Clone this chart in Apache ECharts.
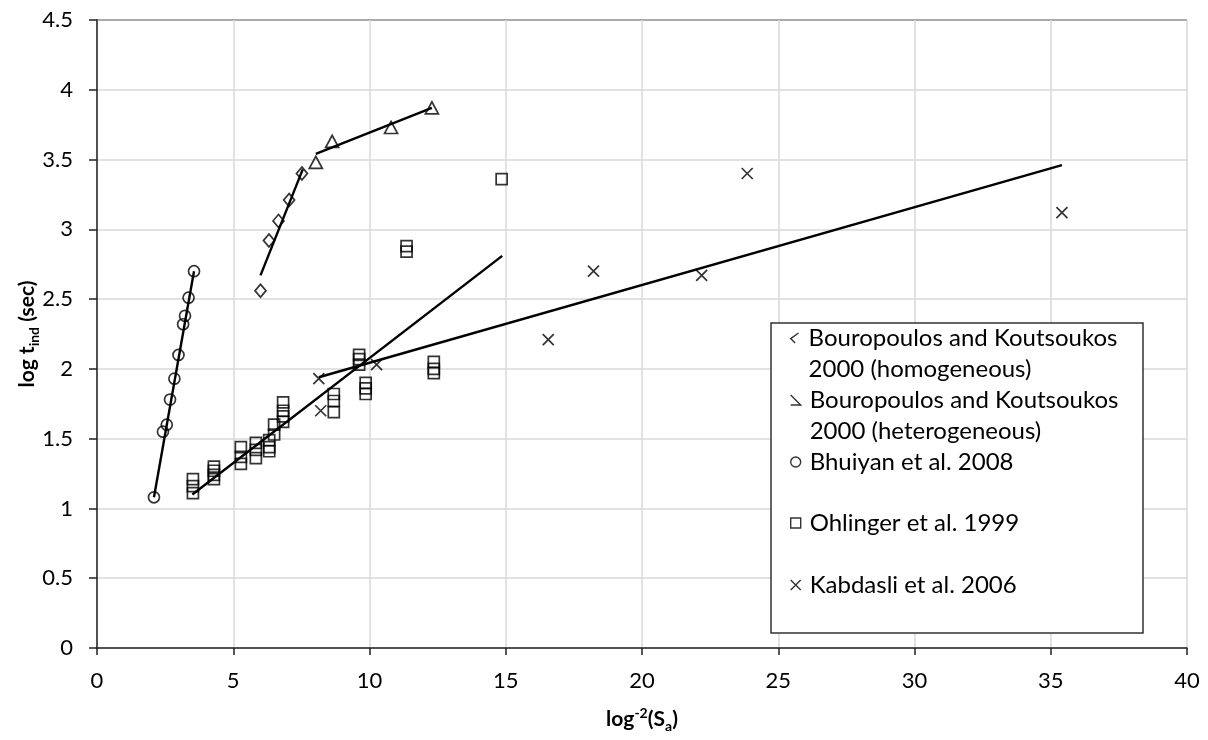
<!DOCTYPE html>
<html>
<head>
<meta charset="utf-8">
<script src="https://cdn.jsdelivr.net/npm/echarts@6/dist/echarts.min.js"></script>
<style>
  html, body { margin: 0; padding: 0; background: #fff; }
  #chart { width: 1208px; height: 740px; }
</style>
</head>
<body>
<div id="chart"></div>
<script>
// Induction time vs. log^-2 of supersaturation, five literature data sets
const bouroHomX = [6.00, 6.31, 6.66, 7.05, 7.52];
const bouroHomY = [2.56, 2.92, 3.06, 3.21, 3.40];

const bouroHetX = [8.03, 8.63, 10.79, 12.29];
const bouroHetY = [3.48, 3.63, 3.73, 3.87];

const bhuiyanX = [2.09, 2.42, 2.56, 2.68, 2.84, 2.99, 3.16, 3.23, 3.36, 3.56];
const bhuiyanY = [1.08, 1.55, 1.60, 1.78, 1.93, 2.10, 2.32, 2.38, 2.51, 2.70];

const ohlingerX = [3.52, 3.52, 3.52, 4.29, 4.29, 4.29, 4.29, 5.28, 5.28, 5.28,
                   5.83, 5.83, 5.83, 6.32, 6.32, 6.32, 6.50, 6.50, 6.83, 6.83,
                   6.83, 6.83, 8.69, 8.69, 8.69, 9.62, 9.62, 9.62, 9.86, 9.86,
                   9.86, 11.36, 11.36, 12.36, 12.36, 12.36, 14.85];
const ohlingerY = [1.21, 1.16, 1.11, 1.30, 1.27, 1.24, 1.21, 1.44, 1.37, 1.32,
                   1.47, 1.42, 1.36, 1.49, 1.44, 1.41, 1.60, 1.53, 1.76, 1.70,
                   1.66, 1.62, 1.82, 1.77, 1.69, 2.10, 2.07, 2.03, 1.90, 1.86,
                   1.82, 2.88, 2.84, 2.05, 2.00, 1.97, 3.36];

const kabdasliX = [8.14, 8.21, 10.26, 16.56, 18.22, 22.19, 23.86, 35.41];
const kabdasliY = [1.93, 1.70, 2.03, 2.21, 2.70, 2.67, 3.40, 3.12];

// Linear fits: [xStart, xEnd] and [yStart, yEnd]
const bhuiyanFitX = [2.09, 3.56];   const bhuiyanFitY = [1.08, 2.70];
const bouroHomFitX = [6.00, 7.55];  const bouroHomFitY = [2.67, 3.43];
const bouroHetFitX = [8.03, 12.29]; const bouroHetFitY = [3.54, 3.87];
const ohlingerFitX = [3.50, 14.87]; const ohlingerFitY = [1.10, 2.81];
const kabdasliFitX = [8.14, 35.41]; const kabdasliFitY = [1.94, 3.46];

const seriesNames = [
  'Bouropoulos and Koutsoukos\n2000 (homogeneous)',
  'Bouropoulos and Koutsoukos\n2000 (heterogeneous)',
  'Bhuiyan et al. 2008',
  'Ohlinger et al. 1999',
  'Kabdasli et al. 2006'
];

const FONT = 'Lato, "Open Sans", sans-serif';
const INK = '#000';
const crossPath = 'path://M0,0L10,10M10,0L0,10';

const pairs = (xs, ys) => xs.map((x, i) => [x, ys[i]]);

const markerStyle = { color: 'rgba(0,0,0,0)', borderColor: INK, borderWidth: 1.7 };

function scatter(name, xs, ys, symbol, size) {
  return {
    name, type: 'scatter', data: pairs(xs, ys),
    symbol, symbolSize: size, itemStyle: markerStyle,
    z: 3, silent: true
  };
}
function fit(xs, ys) {
  return {
    type: 'line', data: pairs(xs, ys), symbol: 'none',
    lineStyle: { color: INK, width: 2.4 }, z: 2, silent: true
  };
}

const legendIcons = [
  'path://M8,0L1,5L5,9',
  'path://M1,0L9,8L1,8',
  'circle',
  'rect',
  crossPath
];
// first-line centres of legend entries
const legendRows = [338, 400, 462, 523, 585];
const LINE_H = 31;
const legends = seriesNames.map((name, i) => {
  const twoLine = name.indexOf('\n') >= 0;
  return {
    data: [{ name, icon: legendIcons[i] }],
    // a blank leading line keeps the icon level with the first text line
    formatter: twoLine ? (n => '\u00a0\n' + n) : (n => n),
    left: 790,
    top: twoLine ? legendRows[i] - 1.5 * LINE_H : legendRows[i] - 0.5 * LINE_H,
    orient: 'vertical',
    padding: 0,
    itemWidth: 10,
    itemHeight: 10,
    selectedMode: false,
    z: 100,
    itemStyle: { color: 'rgba(0,0,0,0)', borderColor: INK, borderWidth: 1.4 },
    textStyle: {
      fontFamily: FONT, fontSize: 24, color: INK, lineHeight: LINE_H,
      padding: [0, 0, 0, 4]
    }
  };
});

const gridColors = ['#d9d9d9', '#d9d9d9', '#d9d9d9', '#d9d9d9', '#d9d9d9',
                    '#d9d9d9', '#d9d9d9', '#d9d9d9', '#d9d9d9', '#8c8c8c'];

const option = {
  animation: false,
  backgroundColor: '#fff',
  grid: { left: 97, right: 21, top: 20, bottom: 92 },
  legend: legends,
  xAxis: {
    type: 'value', min: 0, max: 40, interval: 5,
    axisLine: { lineStyle: { color: '#222', width: 1.5 } },
    axisTick: { show: true, length: 7, lineStyle: { color: '#222', width: 1.5 } },
    axisLabel: { fontFamily: FONT, fontSize: 22, color: INK, margin: 22 },
    splitLine: { show: true, lineStyle: { color: '#d9d9d9', width: 1.5 } },
    name: '{b|log}{sup|-2}{b|(S}{sub|a}{b|)}',
    nameLocation: 'middle', nameGap: 57,
    nameTextStyle: {
      rich: {
        b: { fontFamily: FONT, fontSize: 21, fontWeight: 'bold', color: INK },
        sup: { fontFamily: FONT, fontSize: 14, fontWeight: 'bold', color: INK, padding: [0, 0, 12, 0] },
        sub: { fontFamily: FONT, fontSize: 14, fontWeight: 'bold', color: INK, padding: [14, 0, 0, 0] }
      }
    }
  },
  yAxis: {
    type: 'value', min: 0, max: 4.5, interval: 0.5,
    axisLine: { show: true, lineStyle: { color: '#222', width: 1.5 } },
    axisTick: { show: true, length: 8, lineStyle: { color: '#222', width: 1.5 } },
    axisLabel: { fontFamily: FONT, fontSize: 22, color: INK, margin: 24 },
    splitLine: { show: true, lineStyle: { color: gridColors, width: 1.5 } },
    name: '{b|log t}{sub|ind}{b| (sec)}',
    nameLocation: 'middle', nameGap: 56, nameRotate: 90,
    nameMoveOverlap: false,
    nameTextStyle: {
      rich: {
        b: { fontFamily: FONT, fontSize: 21, fontWeight: 'bold', color: INK },
        sub: { fontFamily: FONT, fontSize: 14, fontWeight: 'bold', color: INK, padding: [14, 0, 0, 0] }
      }
    }
  },
  graphic: [{
    type: 'rect', z: 90,
    shape: { x: 771, y: 323, width: 372, height: 310 },
    style: { fill: '#fff', stroke: '#333', lineWidth: 1.5 }
  }],
  series: [
    fit(bhuiyanFitX, bhuiyanFitY),
    fit(bouroHomFitX, bouroHomFitY),
    fit(bouroHetFitX, bouroHetFitY),
    fit(ohlingerFitX, ohlingerFitY),
    fit(kabdasliFitX, kabdasliFitY),
    scatter(seriesNames[0], bouroHomX, bouroHomY, 'diamond', [11, 13]),
    scatter(seriesNames[1], bouroHetX, bouroHetY, 'triangle', [13, 12]),
    scatter(seriesNames[2], bhuiyanX, bhuiyanY, 'circle', 11),
    scatter(seriesNames[3], ohlingerX, ohlingerY, 'rect', 11),
    scatter(seriesNames[4], kabdasliX, kabdasliY, crossPath, 11)
  ]
};

const chart = echarts.init(document.getElementById('chart'), null, { renderer: 'canvas' });
chart.setOption(option);
</script>
</body>
</html>
